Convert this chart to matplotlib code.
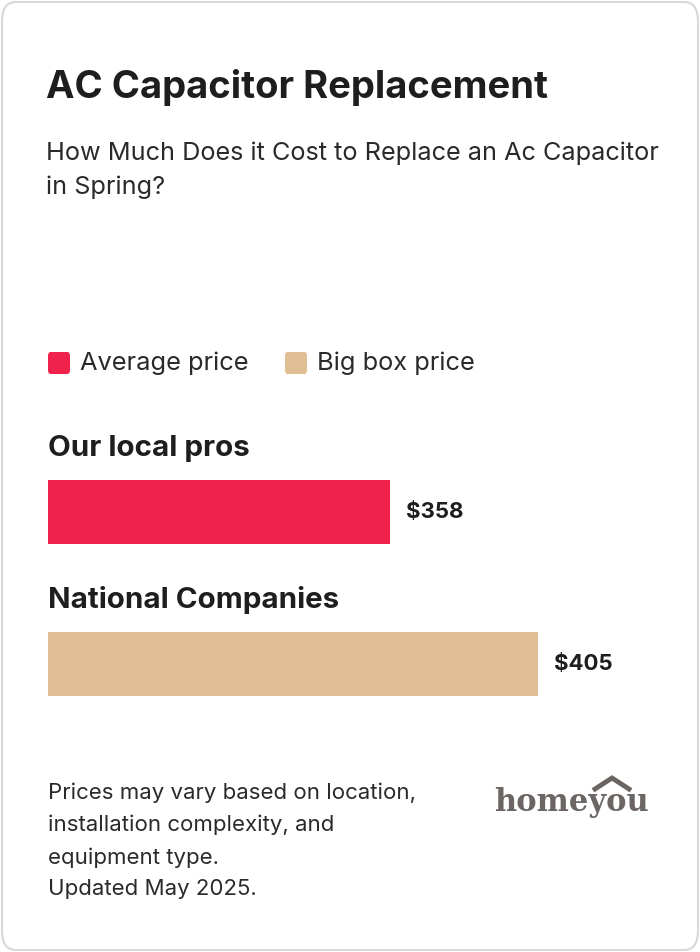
import matplotlib.pyplot as plt
from matplotlib.patches import FancyBboxPatch

plt.rcParams['font.family'] = ['Inter', 'DejaVu Sans']

title = "AC Capacitor Replacement"
subtitle = "How Much Does it Cost to Replace an Ac Capacitor\nin Spring?"
categories = ["Our local pros", "National Companies"]
values = [358, 405]
series = ["Average price", "Big box price"]
colors = ["#F0214A", "#DFBF93"]
footer = "Prices may vary based on location,\ninstallation complexity, and\nequipment type.\nUpdated May 2025."

W, H = 700, 952
fig = plt.figure(figsize=(W / 100, H / 100), dpi=100)

def fy(py):
    return 1 - py / H

# card border
fig.patches.append(FancyBboxPatch((2 / W, 2 / H), 696 / W, 948 / H,
                                  boxstyle="round,pad=0,rounding_size=0.02",
                                  transform=fig.transFigure, facecolor="white",
                                  edgecolor="#d8d8d8", linewidth=1.5, zorder=-5))

fig.text(46 / W, fy(88), title, fontsize=27.5, fontweight="bold", color="#1e1e1e", va="center")
fig.text(46 / W, fy(170), subtitle, fontsize=18.2, color="#2a2a2a", va="center", linespacing=1.55)

# legend
lx = [48, 285]
for x, name, c in zip(lx, series, colors):
    fig.patches.append(FancyBboxPatch((x / W, fy(374)), 22 / W, 22 / H,
                                      boxstyle="round,pad=0,rounding_size=0.004",
                                      transform=fig.transFigure, facecolor=c, edgecolor="none"))
    fig.text((x + 32) / W, fy(363), name, fontsize=18.3, color="#2a2a2a", va="center")

# bars: baseline at 249, 3.14 px per unit
base, k = 249, 3.14
xmax = base + 602 / k
ax = fig.add_axes([48 / W, fy(706), 602 / W, 236 / H])
ax.set_zorder(5)
ax.set_xlim(base, xmax)
ax.set_ylim(236, 0)
ax.axis("off")
ycent = [42, 194]
for y, v, c in zip(ycent, values, colors):
    ax.barh(y, v - base, left=base, height=64, color=c)
    ax.text(v + 5, y, f"${v}", fontsize=16, fontweight="bold", color="#1e1e1e", va="center")
for cy, cat in zip([448, 600], categories):
    fig.text(48 / W, fy(cy), cat, fontsize=21.3, fontweight="bold", color="#1e1e1e", va="center")

fig.text(48 / W, fy(841), footer, fontsize=16, color="#2a2a2a", va="center", linespacing=1.72)

# logo
fig.text(571 / W, fy(803), "homeyou", fontsize=22, fontweight="bold", color="#6b6663",
         ha="center", va="center", family="DejaVu Serif")
fig.lines.append(plt.Line2D([595 / W, 612 / W, 629 / W], [fy(789), fy(778), fy(789)],
                            transform=fig.transFigure, color="#6b6663", linewidth=3.5,
                            solid_joinstyle="miter"))

fig.savefig("out.png", dpi=100)
